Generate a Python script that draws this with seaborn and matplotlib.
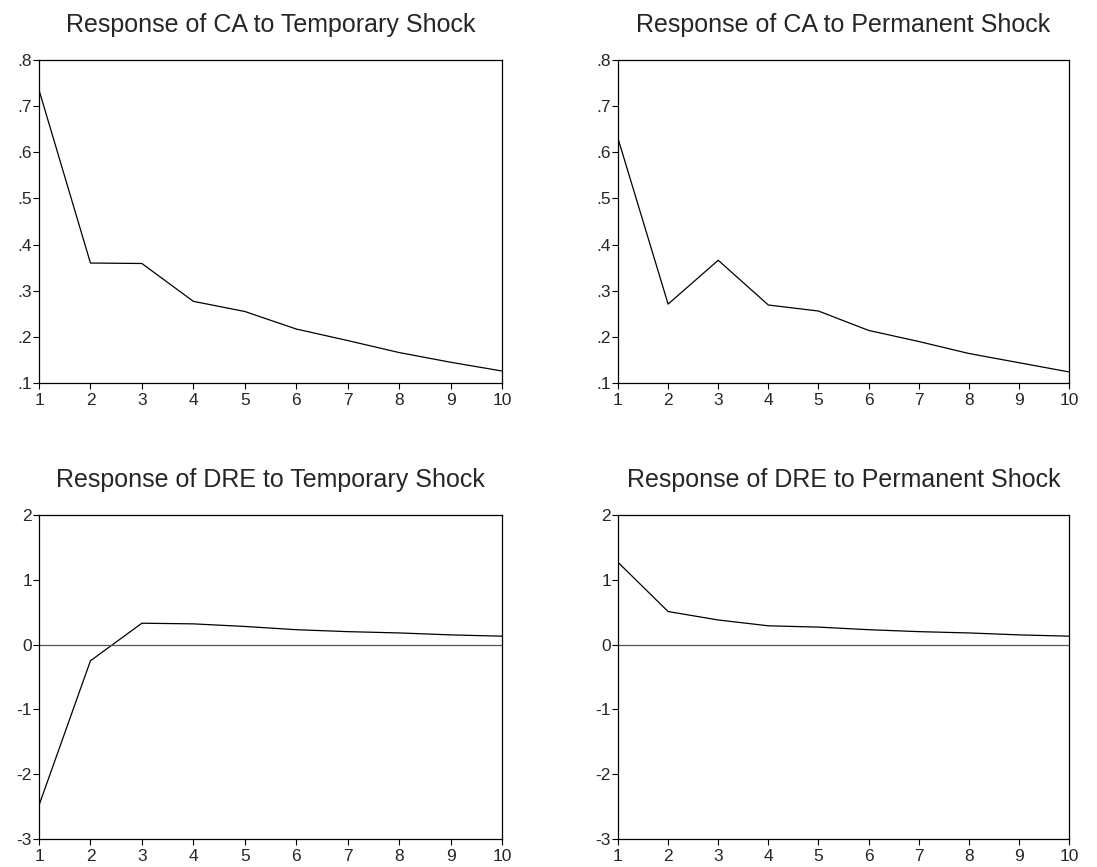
import pandas as pd
import seaborn as sns
import matplotlib.pyplot as plt

# impulse response horizons
periods = [1, 2, 3, 4, 5, 6, 7, 8, 9, 10]

ca_temp = [0.735, 0.360, 0.359, 0.277, 0.255, 0.217, 0.192, 0.166, 0.145, 0.126]
ca_perm = [0.630, 0.271, 0.366, 0.269, 0.256, 0.214, 0.190, 0.164, 0.144, 0.124]
dre_temp = [-2.48, -0.25, 0.33, 0.32, 0.28, 0.23, 0.20, 0.18, 0.15, 0.13]
dre_perm = [1.27, 0.51, 0.38, 0.29, 0.27, 0.23, 0.20, 0.18, 0.15, 0.13]

titles = ["Response of CA to Temporary Shock", "Response of CA to Permanent Shock",
          "Response of DRE to Temporary Shock", "Response of DRE to Permanent Shock"]

ca_ticks = [0.1, 0.2, 0.3, 0.4, 0.5, 0.6, 0.7, 0.8]
ca_labels = [".1", ".2", ".3", ".4", ".5", ".6", ".7", ".8"]
dre_ticks = [-3, -2, -1, 0, 1, 2]
dre_labels = ["-3", "-2", "-1", "0", "1", "2"]

sns.set_style("white")
plt.rcParams['font.family'] = ['Liberation Sans', 'DejaVu Sans']

fig = plt.figure(figsize=(10.97, 8.67), dpi=100)
W, H = 1097, 867
# axes boxes in pixels: left, top, right, bottom
boxes = [(39, 60, 502, 383), (618, 60, 1069, 383),
         (39, 515, 502, 839), (618, 515, 1069, 839)]
series = [ca_temp, ca_perm, dre_temp, dre_perm]

for i, (box, vals, title) in enumerate(zip(boxes, series, titles)):
    l, t, r, b = box
    ax = fig.add_axes([l / W, 1 - b / H, (r - l) / W, (b - t) / H])
    df = pd.DataFrame({"period": periods, "value": vals})
    sns.lineplot(data=df, x="period", y="value", ax=ax, color="black", linewidth=0.9)
    ax.set_xlim(1, 10)
    ax.set_xticks(periods)
    if i < 2:
        ax.set_ylim(0.1, 0.8)
        ax.set_yticks(ca_ticks)
        ax.set_yticklabels(ca_labels)
    else:
        ax.set_ylim(-3, 2)
        ax.set_yticks(dre_ticks)
        ax.set_yticklabels(dre_labels)
        ax.axhline(0, color="#555555", linewidth=0.9)
    ax.set_xlabel("")
    ax.set_ylabel("")
    for s in ax.spines.values():
        s.set_color("black")
        s.set_linewidth(0.9)
    ax.tick_params(axis="both", direction="out", length=4, width=0.8,
                   color="black", labelsize=12.5, left=True, bottom=True)
    ax.tick_params(axis="y", pad=1)
    ax.tick_params(axis="x", pad=3)
    ax.set_title(title, fontsize=18, pad=20)

plt.savefig("out.png", dpi=100)
